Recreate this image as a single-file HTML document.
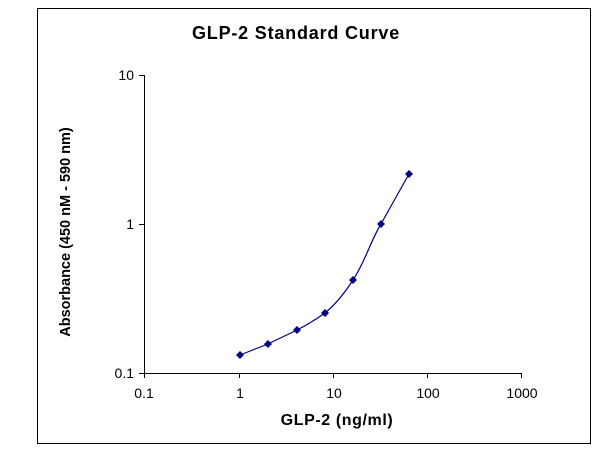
<!DOCTYPE html>
<html><head><style>body{margin:0;background:#fff}svg{display:block}</style></head><body>
<svg width="600" height="450" xmlns="http://www.w3.org/2000/svg" font-family="Liberation Sans, Arial, sans-serif">
<rect x="37.5" y="8.5" width="553" height="435" fill="none" stroke="#000" stroke-width="1"/>
<text x="296" y="39" text-anchor="middle" font-size="18" font-weight="bold" letter-spacing="0.8">GLP-2 Standard Curve</text>
<g stroke="#000" stroke-width="1" fill="none">
<line x1="144.5" y1="75" x2="144.5" y2="373"/>
<line x1="144" y1="373.5" x2="522" y2="373.5"/>
<line x1="139" y1="75.5" x2="144" y2="75.5"/>
<line x1="139" y1="224.5" x2="144" y2="224.5"/>
<line x1="139" y1="373.5" x2="144" y2="373.5"/>
<line x1="144.5" y1="373" x2="144.5" y2="378"/>
<line x1="239.5" y1="373" x2="239.5" y2="378"/>
<line x1="333.5" y1="373" x2="333.5" y2="378"/>
<line x1="427.5" y1="373" x2="427.5" y2="378"/>
<line x1="521.5" y1="373" x2="521.5" y2="378"/>
</g>
<g font-size="14" text-anchor="end">
<text x="134" y="80">10</text><text x="134" y="229">1</text><text x="134" y="378">0.1</text>
</g>
<g font-size="14" text-anchor="middle">
<text x="144" y="398">0.1</text><text x="240" y="398">1</text><text x="334" y="398">10</text><text x="428" y="398">100</text><text x="522" y="398">1000</text>
</g>
<text x="337" y="425" text-anchor="middle" font-size="16" font-weight="bold" letter-spacing="0.6">GLP-2 (ng/ml)</text>
<text transform="translate(70,232) rotate(-90)" text-anchor="middle" font-size="14.5" font-weight="bold">Absorbance (450 nM - 590 nm)</text>
<path d="M240,355 C250,351 258,348 268,344 C278,339 287,335 297,330 C307,325 315,320 325,313 C336,304 344,294 353,280 C365,262 371,240 381,224 C391,206 400,190 409,174" fill="none" stroke="#000080" stroke-width="1.2"/>
<g fill="#000080">
<path d="M240,351l4,4l-4,4l-4,-4z"/><path d="M268,340l4,4l-4,4l-4,-4z"/><path d="M297,326l4,4l-4,4l-4,-4z"/><path d="M325,309l4,4l-4,4l-4,-4z"/><path d="M353,276l4,4l-4,4l-4,-4z"/><path d="M381,220l4,4l-4,4l-4,-4z"/><path d="M409,170l4,4l-4,4l-4,-4z"/>
</g>
</svg>
</body></html>
